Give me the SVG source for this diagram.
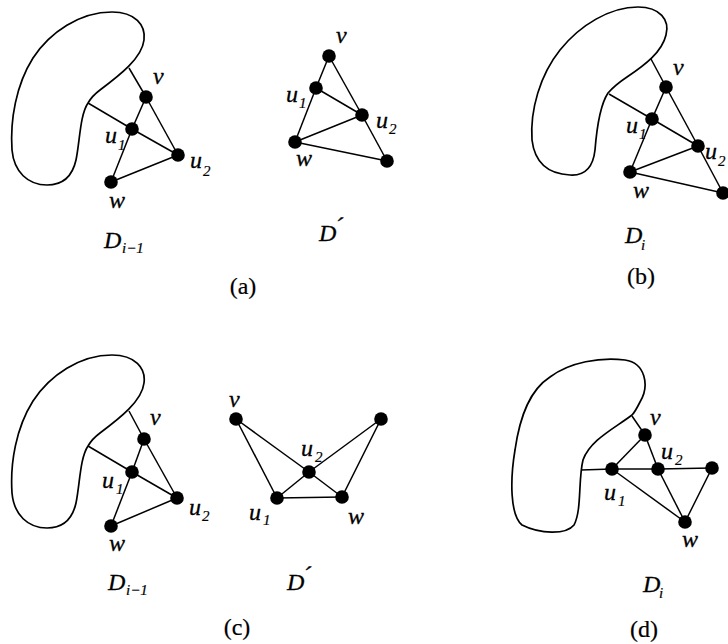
<svg xmlns="http://www.w3.org/2000/svg" width="728" height="644" viewBox="0 0 728 644">
<style>
.blob{fill:#fff;stroke:#000;stroke-width:1.7}
.e{stroke:#000;stroke-width:1.5;fill:none}
.n{fill:#000}
.l{font-family:"Liberation Serif",serif;font-style:italic;font-size:24px;fill:#000;stroke:#000;stroke-width:0.3}
.s{font-family:"Liberation Serif",serif;font-style:italic;font-size:15px;fill:#000;stroke:#000;stroke-width:0.2}
.c{font-family:"Liberation Serif",serif;font-size:24px;fill:#000;stroke:#000;stroke-width:0.2}
.t{font-family:"Liberation Serif",serif;font-style:italic;font-size:24px;fill:#000;stroke:#000;stroke-width:0.3}
</style>
<rect width="728" height="644" fill="#fff"/>

<g id="regions">
<path class="blob" d="M88,103 C80,115 80,140 76,160 C72,178 62,185 47,185 C28,185 14,172 12,150 C10,120 16,85 33,58 C50,32 80,12 112,12 C135,12 146,25 144,40 C142,58 120,75 100,90 Q92,96 88,103 Z"/>
<path class="blob" d="M608,93 C600,105 597,125 595,150 C593,168 585,176 570,175 C550,174 535,165 532,140 C530,110 540,75 560,50 C580,25 610,7 638,7 C660,7 670,20 666,35 C662,52 645,65 627,77 Q615,85 608,93 Z"/>
<path class="blob" transform="translate(0,343)" d="M88,103 C80,115 80,140 76,160 C72,178 62,185 47,185 C28,185 14,172 12,150 C10,120 16,85 33,58 C50,32 80,12 112,12 C135,12 146,25 144,40 C142,58 120,75 100,90 Q92,96 88,103 Z"/>
<path class="blob" d="M632,415 C615,428 590,440 583,460 C578,480 582,510 574,525 C566,535 540,534 522,525 C510,515 510,480 515,450 C520,415 530,390 550,377 C570,362 600,357 625,360 C645,363 650,385 640,402 C637,408 635,412 632,415 Z"/>
</g>

<g id="connectors" class="e">
<line x1="129" y1="68" x2="146" y2="97"/>
<line x1="88" y1="103" x2="132" y2="129"/>
<line x1="146" y1="97" x2="132" y2="129"/>
<line x1="146" y1="97" x2="178" y2="155"/>
<line x1="132" y1="129" x2="178" y2="155"/>
<line x1="132" y1="129" x2="111" y2="182"/>
<line x1="111" y1="182" x2="178" y2="155"/>
<line x1="329" y1="56" x2="316" y2="88"/>
<line x1="329" y1="56" x2="362" y2="115"/>
<line x1="316" y1="88" x2="362" y2="115"/>
<line x1="316" y1="88" x2="295" y2="142"/>
<line x1="295" y1="142" x2="362" y2="115"/>
<line x1="362" y1="115" x2="387" y2="161"/>
<line x1="295" y1="142" x2="387" y2="161"/>
<line x1="651" y1="59" x2="666" y2="87"/>
<line x1="609" y1="94" x2="652" y2="119"/>
<line x1="666" y1="87" x2="652" y2="119"/>
<line x1="666" y1="87" x2="698" y2="146"/>
<line x1="652" y1="119" x2="698" y2="146"/>
<line x1="652" y1="119" x2="630" y2="172"/>
<line x1="630" y1="172" x2="698" y2="146"/>
<line x1="698" y1="146" x2="723" y2="193"/>
<line x1="630" y1="172" x2="723" y2="193"/>
<line x1="129" y1="411" x2="144" y2="439"/>
<line x1="88" y1="446" x2="132" y2="472"/>
<line x1="144" y1="439" x2="132" y2="472"/>
<line x1="144" y1="439" x2="177" y2="498"/>
<line x1="132" y1="472" x2="177" y2="498"/>
<line x1="132" y1="472" x2="111" y2="526"/>
<line x1="111" y1="526" x2="177" y2="498"/>
<line x1="236" y1="419" x2="309" y2="472"/>
<line x1="236" y1="419" x2="277" y2="498"/>
<line x1="277" y1="498" x2="309" y2="472"/>
<line x1="277" y1="498" x2="342" y2="497"/>
<line x1="309" y1="472" x2="342" y2="497"/>
<line x1="381" y1="419" x2="309" y2="472"/>
<line x1="381" y1="419" x2="342" y2="497"/>
<line x1="632" y1="416" x2="645" y2="435"/>
<line x1="581" y1="470" x2="612" y2="469"/>
<line x1="612" y1="469" x2="645" y2="435"/>
<line x1="645" y1="435" x2="658" y2="469"/>
<line x1="612" y1="469" x2="658" y2="469"/>
<line x1="658" y1="469" x2="712" y2="468"/>
<line x1="612" y1="469" x2="685" y2="522"/>
<line x1="658" y1="469" x2="685" y2="522"/>
<line x1="712" y1="468" x2="685" y2="522"/>
</g>

<g id="a-v"><circle class="n" cx="146" cy="97" r="6.8"/><text class="l" x="153" y="84">v</text></g>
<g id="a-u1"><circle class="n" cx="132" cy="129" r="6.8"/><text class="l" x="105" y="143">u</text><text class="s" x="118" y="150">1</text></g>
<g id="a-u2"><circle class="n" cx="178" cy="155" r="6.8"/><text class="l" x="190" y="168">u</text><text class="s" x="203" y="176">2</text></g>
<g id="a-w"><circle class="n" cx="111" cy="182" r="6.8"/><text class="l" x="109" y="208">w</text></g>
<g id="label-a-left"><text class="t" x="104" y="248">D</text><text class="s" x="122" y="253">i−1</text></g>

<g id="ap-v"><circle class="n" cx="329" cy="56" r="6.8"/><text class="l" x="336" y="43">v</text></g>
<g id="ap-u1"><circle class="n" cx="316" cy="88" r="6.8"/><text class="l" x="286" y="102">u</text><text class="s" x="299" y="108">1</text></g>
<g id="ap-u2"><circle class="n" cx="362" cy="115" r="6.8"/><text class="l" x="376" y="128">u</text><text class="s" x="389" y="134">2</text></g>
<g id="ap-w"><circle class="n" cx="295" cy="142" r="6.8"/><text class="l" x="296" y="166">w</text></g>
<g id="ap-x"><circle class="n" cx="387" cy="161" r="6.8"/></g>
<g id="label-a-right"><text class="t" x="319" y="241">D</text><text class="t" x="335" y="234" font-size="20">´</text></g>
<g id="caption-a"><text class="c" x="243" y="294" text-anchor="middle">(a)</text></g>

<g id="b-v"><circle class="n" cx="666" cy="87" r="6.8"/><text class="l" x="673" y="75">v</text></g>
<g id="b-u1"><circle class="n" cx="652" cy="119" r="6.8"/><text class="l" x="626" y="133">u</text><text class="s" x="639" y="139">1</text></g>
<g id="b-u2"><circle class="n" cx="698" cy="146" r="6.8"/><text class="l" x="705" y="159">u</text><text class="s" x="718" y="166">2</text></g>
<g id="b-w"><circle class="n" cx="630" cy="172" r="6.8"/><text class="l" x="633" y="198">w</text></g>
<g id="b-x"><circle class="n" cx="723" cy="193" r="6.8"/></g>
<g id="label-b"><text class="t" x="625" y="243">D</text><text class="s" x="641" y="250">i</text></g>
<g id="caption-b"><text class="c" x="641" y="284" text-anchor="middle">(b)</text></g>

<g id="c-v"><circle class="n" cx="144" cy="439" r="6.8"/><text class="l" x="150" y="425">v</text></g>
<g id="c-u1"><circle class="n" cx="132" cy="472" r="6.8"/><text class="l" x="102" y="488">u</text><text class="s" x="116" y="494">1</text></g>
<g id="c-u2"><circle class="n" cx="177" cy="498" r="6.8"/><text class="l" x="189" y="515">u</text><text class="s" x="202" y="521">2</text></g>
<g id="c-w"><circle class="n" cx="111" cy="526" r="6.8"/><text class="l" x="109" y="551">w</text></g>
<g id="label-c-left"><text class="t" x="108" y="590">D</text><text class="s" x="126" y="595">i−1</text></g>

<g id="cp-v"><circle class="n" cx="236" cy="419" r="6.8"/><text class="l" x="229" y="407">v</text></g>
<g id="cp-u2"><circle class="n" cx="309" cy="472" r="6.8"/><text class="l" x="301" y="456">u</text><text class="s" x="315" y="462">2</text></g>
<g id="cp-u1"><circle class="n" cx="277" cy="498" r="6.8"/><text class="l" x="249" y="520">u</text><text class="s" x="263" y="525">1</text></g>
<g id="cp-w"><circle class="n" cx="342" cy="497" r="6.8"/><text class="l" x="348" y="524">w</text></g>
<g id="cp-x"><circle class="n" cx="381" cy="419" r="6.8"/></g>
<g id="label-c-right"><text class="t" x="287" y="590">D</text><text class="t" x="303" y="583" font-size="20">´</text></g>
<g id="caption-c"><text class="c" x="237" y="635" text-anchor="middle">(c)</text></g>

<g id="d-v"><circle class="n" cx="645" cy="435" r="6.8"/><text class="l" x="650" y="425">v</text></g>
<g id="d-u1"><circle class="n" cx="612" cy="469" r="6.8"/><text class="l" x="604" y="500">u</text><text class="s" x="618" y="506">1</text></g>
<g id="d-u2"><circle class="n" cx="658" cy="469" r="6.8"/><text class="l" x="661" y="459">u</text><text class="s" x="675" y="465">2</text></g>
<g id="d-x"><circle class="n" cx="712" cy="468" r="6.8"/></g>
<g id="d-w"><circle class="n" cx="685" cy="522" r="6.8"/><text class="l" x="682" y="547">w</text></g>
<g id="label-d"><text class="t" x="643" y="592">D</text><text class="s" x="659" y="598">i</text></g>
<g id="caption-d"><text class="c" x="644" y="637" text-anchor="middle">(d)</text></g>
</svg>
